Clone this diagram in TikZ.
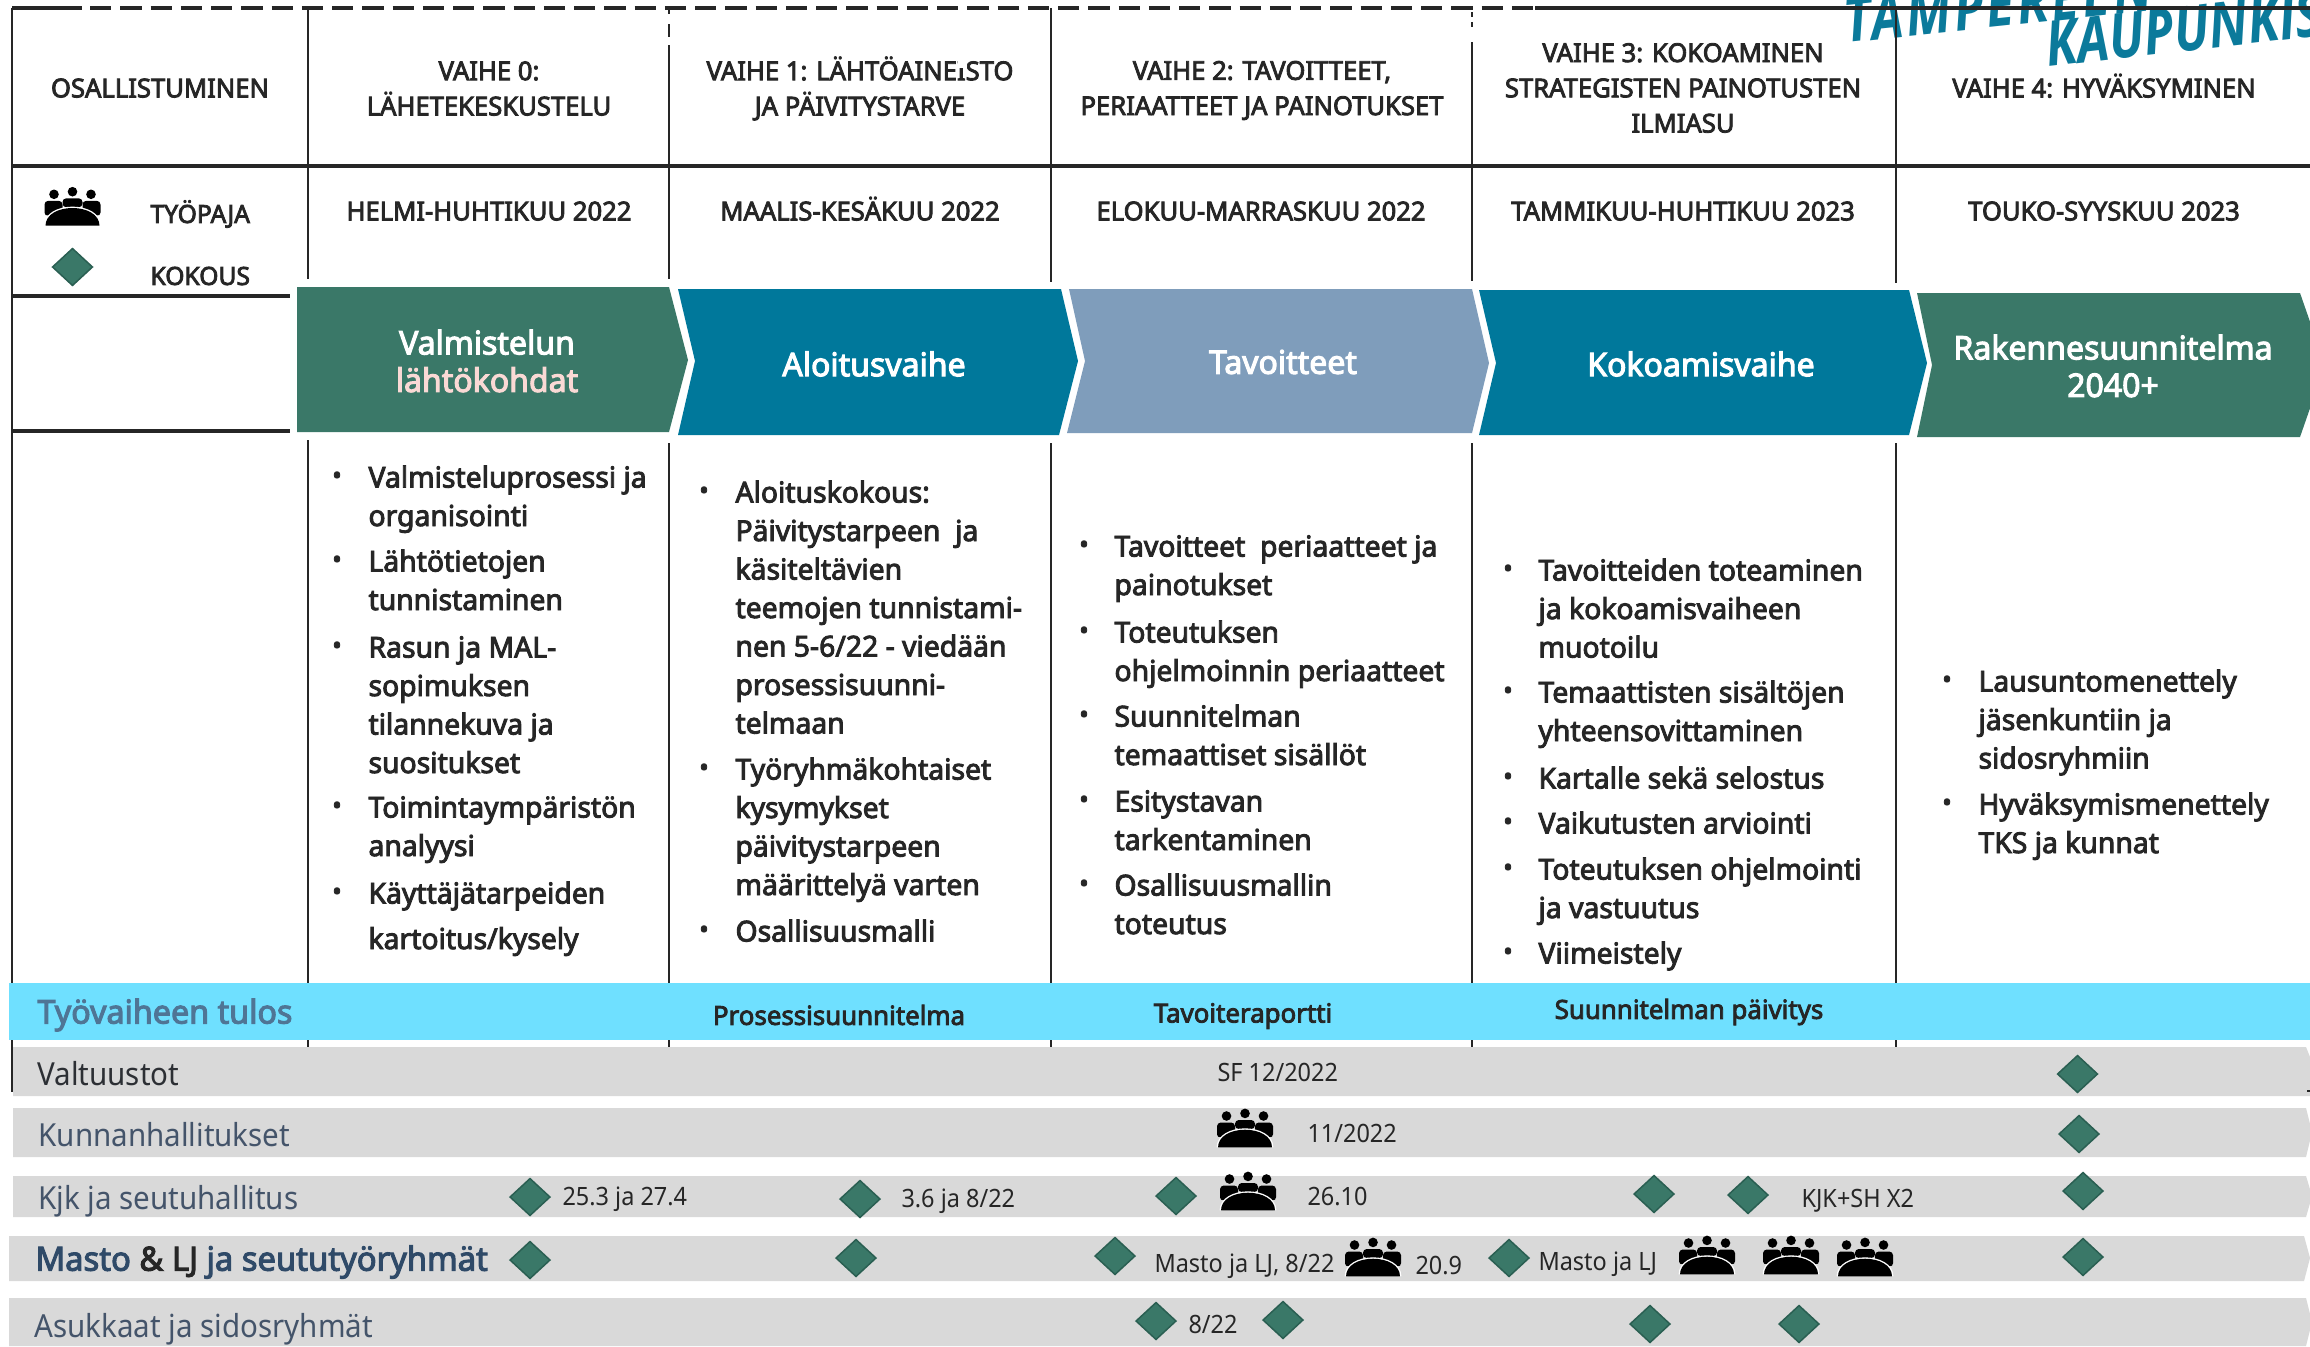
\documentclass[tikz,border=0pt]{standalone}
\usepackage{fontspec}
\setmainfont{Noto Sans}[FakeStretch=0.93]
\newfontfamily\semi{Noto Sans}[FakeStretch=0.985,FakeBold=3.2]
\newfontfamily\handx{Open Sans}[FakeStretch=0.82]
\newcommand{\hand}{\handx\bfseries\itshape}
\definecolor{ink}{HTML}{262626}
\definecolor{green1}{HTML}{3A7868}
\definecolor{green2}{HTML}{2A5F52}
\definecolor{teal1}{HTML}{00789B}
\definecolor{slate1}{HTML}{7F9DBB}
\definecolor{band}{HTML}{6FE0FF}
\definecolor{rowgray}{HTML}{D9D9D9}
\definecolor{rowtext}{HTML}{44546A}
\definecolor{mastotxt}{HTML}{2F4A68}
\definecolor{tulos}{HTML}{4F7595}
\definecolor{pinkish}{HTML}{FAD9D5}
\definecolor{logo}{HTML}{0B7A9B}
\usetikzlibrary{shapes.geometric}
\tikzset{
  vline/.style={draw=ink,line width=1pt},
  hline/.style={draw=ink,line width=1.5pt},
  hdr/.style={font=\semi\fontsize{10.4pt}{14.1pt}\selectfont,text=ink,align=center,inner sep=0pt},
  hdrone/.style={hdr,text height=7.5pt,text depth=0pt},
  leg/.style={font=\semi\fontsize{10pt}{12pt}\selectfont,text=ink,anchor=west,inner sep=0pt},
  chevtxt/.style={font=\semi\fontsize{13pt}{15pt}\selectfont,text=white,align=center,inner sep=0pt},
  bodytxt/.style={font=\semi\fontsize{11.5pt}{15.4pt}\selectfont,text=ink,align=left,anchor=north west,inner sep=0pt,yshift=8.4pt},
  dotmark/.style={font=\semi\fontsize{10.2pt}{15.4pt}\selectfont,text=ink,inner sep=0pt},
  restxt/.style={font=\semi\fontsize{10.5pt}{12pt}\selectfont,text=ink,inner sep=0pt},
  rowlab/.style={font=\fontsize{12.7pt}{14pt}\selectfont,text=rowtext,anchor=west,inner sep=0pt},
  small/.style={font=\fontsize{10.1pt}{11pt}\selectfont,text=ink,anchor=west,inner sep=0pt},
  meet/.style={diamond,aspect=1.08,fill=green1,draw=green2,line width=.6pt,minimum width=16.2pt,minimum height=15pt,inner sep=0pt,yshift=-.4pt},
  workshop/.pic={
    \fill (-18.5,-12) circle (4.8);
    \fill (18.5,-12) circle (4.8);
    \fill (0,-14.6) circle (4.8);
    \fill[rounded corners=1.5pt] (-28,10) -- (-28,-5.5) -- (-10,-5.5) -- (-10,6) -- cycle;
    \fill[rounded corners=1.5pt] (28,10) -- (28,-5.5) -- (10,-5.5) -- (10,6) -- cycle;
    \fill[rounded corners=1.5pt] (-10,1) -- (-10,-8) -- (10,-8) -- (10,1) -- cycle;
    \draw[white,line width=1.1pt] (-27,19.4) .. controls (-27,8) and (-14,1.7) .. (0,1.7) .. controls (14,1.7) and (27,8) .. (27,19.4);
    \fill (-27,19.4) .. controls (-27,8) and (-14,1.7) .. (0,1.7) .. controls (14,1.7) and (27,8) .. (27,19.4) -- cycle;
  }
}
\newcommand{\bul}[5]{%
  \node[dotmark] (#1d) at (#2,#4) {•};
  \node[bodytxt] (#1) at (#3,#4) {\rule{0pt}{12pt}#5};
}
\begin{document}
\begin{tikzpicture}[x=0.4pt,y=-0.4pt]
\useasboundingbox (0,0) rectangle (2310,1346);
\clip (0,0) rectangle (2310,1346);
\fill[white] (0,0) rectangle (2310,1346);

% logo
\node[font=\hand\addfontfeature{LetterSpace=5}\fontsize{25pt}{25pt}\selectfont,text=logo,anchor=base west,inner sep=0pt,rotate=6] (logoa) at (1846,43) {TAMPEREEN};
\node[font=\hand\fontsize{25pt}{25pt}\selectfont,text=logo,anchor=base west,inner sep=0pt,rotate=6.5] (logob) at (2048,67) {KAUPUNKISEUTU};

% grid lines
\draw[hline] (12,8) -- (82,8);
\draw[hline,dash pattern=on 8.5pt off 3.6pt] (90,8) -- (1535,8);
\draw[hline] (1535,8) -- (2310,8);
\draw[hline] (12,166) -- (2310,166);
\draw[hline] (12,296) -- (290,296);
\draw[hline] (12,431) -- (290,431);
\draw[vline] (12,8) -- (12,1092);
\draw[vline] (308,8) -- (308,279);
\draw[vline] (308,440) -- (308,1047);
\draw[vline] (669,8) -- (669,14);
\draw[vline] (669,24) -- (669,37);
\draw[vline] (669,45) -- (669,279);
\draw[vline] (669,443) -- (669,1047);
\draw[vline] (1051,8) -- (1051,282);
\draw[vline] (1051,443) -- (1051,1047);
\draw[vline,dash pattern=on 2pt off 2pt] (1472,12) -- (1472,30);
\draw[vline] (1472,42) -- (1472,281);
\draw[vline] (1472,443) -- (1472,1047);
\draw[vline] (1896,8) -- (1896,283);
\draw[vline] (1896,443) -- (1896,1047);

% headers
\node[hdrone] (h0) at (160,88) {OSALLISTUMINEN};
\node[hdr] (h1) at (489,88.5) {VAIHE 0:\\LÄHETEKESKUSTELU};
\node[hdr] (h2) at (860,88.5) {VAIHE 1: LÄHTÖAINEISTO\\JA PÄIVITYSTARVE};
\fill[white] (958,60) rectangle (967,68);
\node[hdr] (h3) at (1262,90.5) {VAIHE 2: TAVOITTEET,\\PERIAATTEET JA PAINOTUKSET};
\node[hdr] (h4) at (1683,88) {VAIHE 3: KOKOAMINEN\\STRATEGISTEN PAINOTUSTEN\\ILMIASU};
\node[hdrone] (h5) at (2104,88) {VAIHE 4: HYVÄKSYMINEN};
\node[hdrone] (d1) at (489,211) {HELMI-HUHTIKUU 2022};
\node[hdrone] (d2) at (860,211) {MAALIS-KESÄKUU 2022};
\node[hdrone] (d3) at (1261,211) {ELOKUU-MARRASKUU 2022};
\node[hdrone] (d4) at (1683,211) {TAMMIKUU-HUHTIKUU 2023};
\node[hdrone] (d5) at (2104,211) {TOUKO-SYYSKUU 2023};

% legend
\pic[black] at (72.5,206.3) {workshop};
\node[leg] (ltp) at (150,214) {TYÖPAJA};
\node[meet] (lmk) at (72.5,266) {};
\node[leg] (lko) at (150,276) {KOKOUS};

% chevrons
\fill[green1] (297,287) -- (669,287) -- (688,360) -- (669,432) -- (297,432) -- cycle;
\fill[teal1] (678,289) -- (1061,289) -- (1078,361) -- (1059,435) -- (678,435) -- (695,361) -- cycle;
\fill[slate1] (1069,289) -- (1472,289) -- (1489,363) -- (1472,433) -- (1067,433) -- (1085,361) -- cycle;
\fill[teal1] (1479,290) -- (1909,290) -- (1927,363) -- (1909,435) -- (1479,435) -- (1496,363) -- cycle;
\fill[green1] (1917,293) -- (2300,293) -- (2325,365) -- (2300,437) -- (1917,437) -- (1932,365) -- cycle;
\node[chevtxt] (c0) at (487,361) {Valmistelun\\\textcolor{pinkish}{lähtökohdat}};
\node[chevtxt] (c1) at (874,364) {Aloitusvaihe};
\node[chevtxt] (c2) at (1283,362) {Tavoitteet};
\node[chevtxt] (c3) at (1701,364) {Kokoamisvaihe};
\node[chevtxt] (c4) at (2113,366) {Rakennesuunnitelma\\2040+};

% bullets
\bul{a1}{337}{368}{478}{Valmisteluprosessi ja\\organisointi}
\bul{a2}{337}{368}{562}{Lähtötietojen\\tunnistaminen}
\bul{a3}{337}{368}{648}{Rasun ja MAL-\\sopimuksen\\tilannekuva ja\\suositukset}
\bul{a4}{337}{368}{808}{Toimintaympäristön\\analyysi}
\bul{a5}{337}{368}{894}{Käyttäjätarpeiden\\[2.8pt]kartoitus/kysely}
\bul{b1}{704}{735}{493}{Aloituskokous:\\Päivitystarpeen~ ja\\käsiteltävien\\teemojen tunnistami-\\nen 5-6/22 - viedään\\prosessisuunni-\\telmaan}
\bul{b2}{704}{735}{770}{Työryhmäkohtaiset\\kysymykset\\päivitystarpeen\\määrittelyä varten}
\bul{b3}{704}{735}{932}{Osallisuusmalli}
\bul{c1b}{1084}{1114}{547}{Tavoitteet~ periaatteet ja\\painotukset}
\bul{c2b}{1084}{1114}{633}{Toteutuksen\\ohjelmoinnin periaatteet}
\bul{c3b}{1084}{1114}{717}{Suunnitelman\\temaattiset sisällöt}
\bul{c4b}{1084}{1114}{802}{Esitystavan\\tarkentaminen}
\bul{c5b}{1084}{1114}{886}{Osallisuusmallin\\toteutus}
\bul{d1b}{1508}{1538}{571}{Tavoitteiden toteaminen\\ja kokoamisvaiheen\\muotoilu}
\bul{d2b}{1508}{1538}{693}{Temaattisten sisältöjen\\yhteensovittaminen}
\bul{d3b}{1508}{1538}{779}{Kartalle sekä selostus}
\bul{d4b}{1508}{1538}{824}{Vaikutusten arviointi}
\bul{d5b}{1508}{1538}{870}{Toteutuksen ohjelmointi\\ja vastuutus}
\bul{d6b}{1508}{1538}{954}{Viimeistely}
\bul{e1b}{1947}{1978}{682}{Lausuntomenettely\\jäsenkuntiin ja\\sidosryhmiin}
\bul{e2b}{1947}{1978}{805}{Hyväksymismenettely\\TKS ja kunnat}

% result band
\fill[band] (9,983) rectangle (2310,1040);
\node[rowlab,font=\semi\fontsize{13.1pt}{14pt}\selectfont,text=tulos] (t0) at (37,1015) {Työvaiheen tulos};
\node[restxt] (t1) at (839,1015) {Prosessisuunnitelma};
\node[restxt] (t2) at (1243,1016) {Tavoiteraportti};
\node[restxt] (t3) at (1689,1012) {Suunnitelman päivitys};

% rows
\fill[rowgray] (13,1047) -- (2306,1047) -- (2316,1072) -- (2310,1096) -- (13,1096) -- cycle;
\fill[rowgray] (13,1108) -- (2306,1108) -- (2312,1132) -- (2306,1157) -- (13,1157) -- cycle;
\fill[rowgray] (13,1176) -- (2306,1176) -- (2312,1196) -- (2306,1217) -- (13,1217) -- cycle;
\fill[rowgray] (9,1236) -- (2304,1236) -- (2310,1258) -- (2304,1281) -- (9,1281) -- cycle;
\fill[rowgray] (9,1298) -- (2306,1298) -- (2312,1322) -- (2306,1346) -- (9,1346) -- cycle;
\draw[ink,line width=.8pt] (2307,1091) -- (2310,1091);

\node[rowlab,text=ink!80!rowtext] (r1) at (37,1074) {Valtuustot};
\node[rowlab] (r2) at (38,1135) {Kunnanhallitukset};
\node[rowlab] (r3) at (38,1201) {Kjk ja seutuhallitus};
\node[rowlab,font=\semi\fontsize{13.3pt}{14pt}\selectfont,text=mastotxt] (r4) at (35,1262) {Masto \textcolor{ink}{\& LJ} ja seututyöryhmät};
\node[rowlab] (r5) at (34,1329) {Asukkaat ja sidosryhmät};

\node[small] (s1) at (562,1199) {25.3 ja 27.4};
\node[small] (s2) at (901,1201) {3.6 ja 8/22};
\node[small] (s3) at (1217,1072) {SF 12/2022};
\node[small] (s4) at (1307,1133) {11/2022};
\node[small] (s5) at (1307,1197) {26.10};
\node[small] (s6) at (1801,1201) {KJK+SH X2};
\node[small] (s7) at (1154,1266) {Masto ja LJ, 8/22};
\node[small] (s8) at (1415,1266) {20.9};
\node[small] (s9) at (1538,1264) {Masto ja LJ};
\node[small] (s10) at (1188,1324) {8/22};

% meetings
\node[meet] (m1) at (2077.5,1073) {};
\node[meet] (m2) at (2079,1133) {};
\node[meet] (m3) at (530,1196) {};
\node[meet] (m4) at (860,1198) {};
\node[meet] (m5) at (1176,1195) {};
\node[meet] (m6) at (1654,1193) {};
\node[meet] (m7) at (1748,1194) {};
\node[meet] (m8) at (2083,1190) {};
\node[meet] (m9) at (530,1259) {};
\node[meet] (m10) at (856,1257) {};
\node[meet] (m11) at (1115,1255) {};
\node[meet] (m12) at (1509,1257) {};
\node[meet] (m13) at (2083,1256) {};
\node[meet] (m14) at (1156,1320) {};
\node[meet] (m15) at (1283,1319) {};
\node[meet] (m16) at (1650,1323) {};
\node[meet] (m17) at (1799,1323) {};

% workshops
\pic[black] at (1245,1128) {workshop};
\pic[black] at (1248,1191) {workshop};
\pic[black] at (1373,1257) {workshop};
\pic[black] at (1707,1255) {workshop};
\pic[black] at (1791,1255) {workshop};
\pic[black] at (1865,1257) {workshop};
\end{tikzpicture}
\end{document}
